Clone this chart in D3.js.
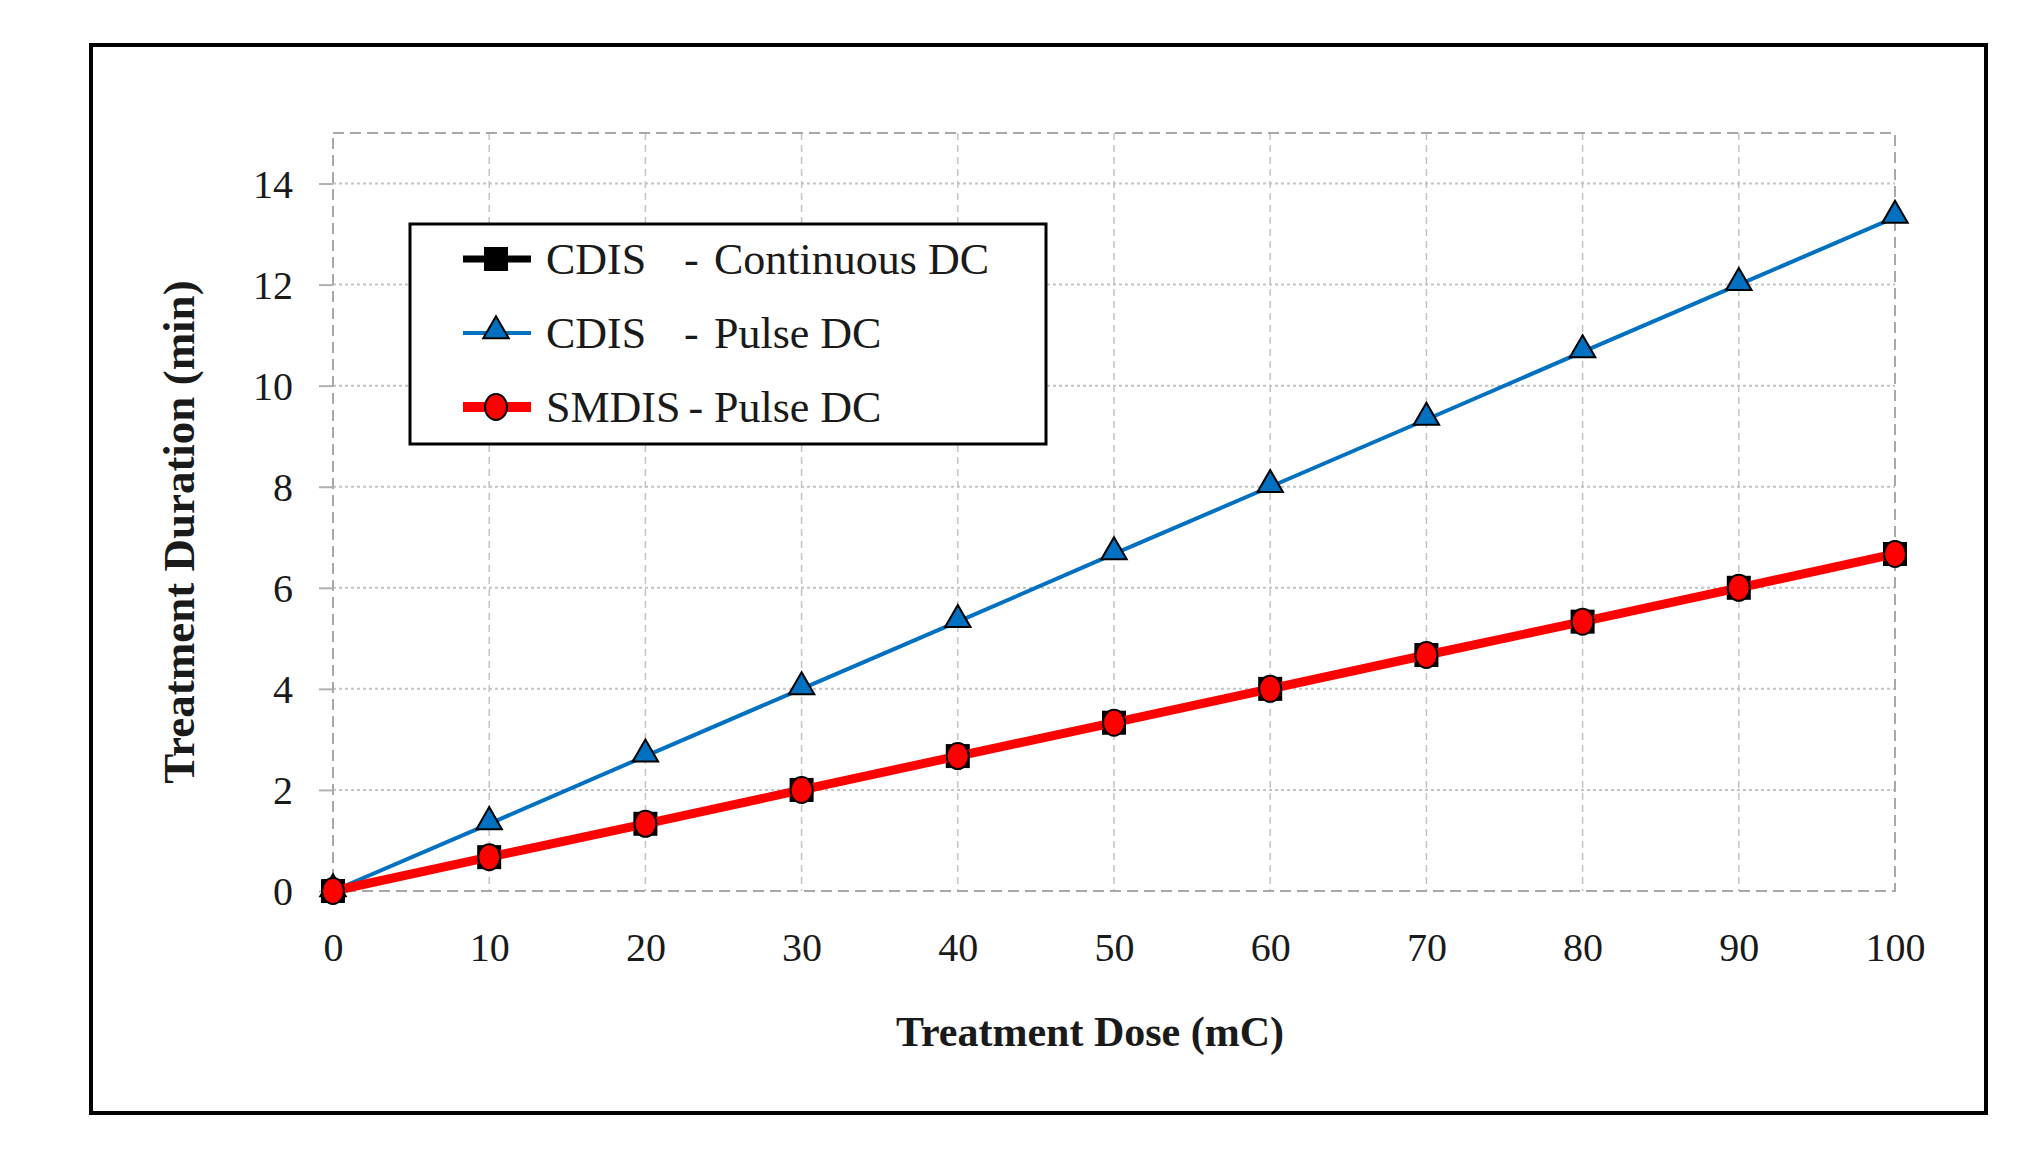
<!DOCTYPE html>
<html>
<head>
<meta charset="utf-8">
<script src="https://cdn.jsdelivr.net/npm/d3@7"></script>
<style>
  body { margin: 0; background: #fff; }
  text { font-family: "Liberation Serif", "DejaVu Serif", serif; fill: #1a1a1a; }
</style>
</head>
<body>
<script>
const doses = [0, 10, 20, 30, 40, 50, 60, 70, 80, 90, 100];
const cdisContinuous = [0, 0.67, 1.33, 2, 2.67, 3.33, 4, 4.67, 5.33, 6, 6.67];
const cdisPulse = [0, 1.33, 2.67, 4, 5.33, 6.67, 8, 9.33, 10.67, 12, 13.33];
const smdisPulse = [0, 0.67, 1.33, 2, 2.67, 3.33, 4, 4.67, 5.33, 6, 6.67];
const yTicks = [0, 2, 4, 6, 8, 10, 12, 14];
const legendNames = ["CDIS", "CDIS", "SMDIS"];
const legendModes = ["Continuous DC", "Pulse DC", "Pulse DC"];

const W = 2030, H = 1164;
const svg = d3.select("body").append("svg")
  .attr("width", W).attr("height", H);

// outer frame
svg.append("rect")
  .attr("x", 91).attr("y", 45).attr("width", 1895).attr("height", 1068)
  .attr("fill", "none").attr("stroke", "#000").attr("stroke-width", 4);

const x = d3.scaleLinear().domain([0, 100]).range([333, 1895]);
const y = d3.scaleLinear().domain([0, 15]).range([891, 133]);

// grid
svg.append("g").selectAll("line").data(yTicks.filter(d => d > 0))
  .enter().append("line")
  .attr("x1", x(0)).attr("x2", x(100))
  .attr("y1", d => y(d)).attr("y2", d => y(d))
  .attr("stroke", "#c4c4c4").attr("stroke-width", 2)
  .attr("stroke-dasharray", "3,3");

svg.append("g").selectAll("line").data(doses.filter(d => d > 0 && d < 100))
  .enter().append("line")
  .attr("x1", d => x(d)).attr("x2", d => x(d))
  .attr("y1", y(15)).attr("y2", y(0))
  .attr("stroke", "#c4c4c4").attr("stroke-width", 1.5)
  .attr("stroke-dasharray", "7,5");

// plot border
svg.append("rect")
  .attr("x", x(0)).attr("y", y(15))
  .attr("width", x(100) - x(0)).attr("height", y(0) - y(15))
  .attr("fill", "none").attr("stroke", "#a8a8a8").attr("stroke-width", 2)
  .attr("stroke-dasharray", "11,6");

// axes
const yAxis = svg.append("g")
  .attr("transform", `translate(${x(0)},0)`)
  .call(d3.axisLeft(y).tickValues(yTicks).tickSize(14).tickPadding(26));
yAxis.select(".domain").remove();
yAxis.selectAll(".tick line").attr("stroke", "#b0b0b0").attr("stroke-width", 2);
yAxis.selectAll(".tick text").style("font-size", "40px").attr("dy", "0.34em");

const xAxis = svg.append("g")
  .attr("transform", `translate(0,${y(0)})`)
  .call(d3.axisBottom(x).tickValues(doses).tickSize(0).tickPadding(42));
xAxis.select(".domain").remove();
xAxis.selectAll(".tick text").style("font-size", "40px");

// axis titles
svg.append("text")
  .attr("x", 1090).attr("y", 1046)
  .attr("text-anchor", "middle")
  .style("font-size", "42px").style("font-weight", "bold")
  .text("Treatment Dose (mC)");

svg.append("text")
  .attr("transform", "translate(194,532) rotate(-90)")
  .attr("text-anchor", "middle")
  .style("font-size", "45px").style("font-weight", "bold")
  .text("Treatment Duration (min)");

// series
const line = d3.line().x((d, i) => x(doses[i])).y(d => y(d));

svg.append("path").datum(cdisContinuous)
  .attr("d", line).attr("fill", "none")
  .attr("stroke", "#000").attr("stroke-width", 6);
svg.append("g").selectAll("rect").data(cdisContinuous)
  .enter().append("rect")
  .attr("x", (d, i) => x(doses[i]) - 12).attr("y", d => y(d) - 12)
  .attr("width", 24).attr("height", 24).attr("fill", "#000");

svg.append("path").datum(cdisPulse)
  .attr("d", line).attr("fill", "none")
  .attr("stroke", "#0070C0").attr("stroke-width", 4);
const tri = d3.symbol().type(d3.symbolTriangle).size(280);
svg.append("g").selectAll("path").data(cdisPulse)
  .enter().append("path")
  .attr("d", tri)
  .attr("transform", (d, i) => `translate(${x(doses[i])},${y(d) - 2})`)
  .attr("fill", "#0070C0").attr("stroke", "#000").attr("stroke-width", 2);

svg.append("path").datum(smdisPulse)
  .attr("d", line).attr("fill", "none")
  .attr("stroke", "#FF0000").attr("stroke-width", 9);
svg.append("g").selectAll("ellipse").data(smdisPulse)
  .enter().append("ellipse")
  .attr("cx", (d, i) => x(doses[i])).attr("cy", d => y(d))
  .attr("rx", 11).attr("ry", 13)
  .attr("fill", "#FF0000").attr("stroke", "#000").attr("stroke-width", 2);

// legend
const lg = svg.append("g");
lg.append("rect")
  .attr("x", 410).attr("y", 224).attr("width", 636).attr("height", 220)
  .attr("fill", "#fff").attr("stroke", "#000").attr("stroke-width", 3);

const rowY = [259, 333, 407];
const sym = [
  g => g.append("rect").attr("x", -12).attr("y", -12).attr("width", 24).attr("height", 24).attr("fill", "#000"),
  g => g.append("path").attr("d", tri).attr("transform", "translate(0,-2)")
        .attr("fill", "#0070C0").attr("stroke", "#000").attr("stroke-width", 2),
  g => g.append("ellipse").attr("rx", 11).attr("ry", 13)
        .attr("fill", "#FF0000").attr("stroke", "#000").attr("stroke-width", 2)
];
const lineStyle = [["#000", 7], ["#0070C0", 4], ["#FF0000", 10]];

legendNames.forEach((name, i) => {
  const g = lg.append("g").attr("transform", `translate(0,${rowY[i]})`);
  g.append("line").attr("x1", 463).attr("x2", 531)
    .attr("stroke", lineStyle[i][0]).attr("stroke-width", lineStyle[i][1]);
  sym[i](g.append("g").attr("transform", "translate(496,0)"));
  const t = g.append("text").attr("x", 546).attr("dy", "0.35em")
    .style("font-size", "44px").text(name);
  const end = 546 + t.node().getComputedTextLength();
  g.append("text").attr("x", Math.max(end + 8, 684)).attr("dy", "0.35em")
    .style("font-size", "44px").text("-");
  g.append("text").attr("x", 714).attr("dy", "0.35em")
    .style("font-size", "44px").text(legendModes[i]);
});
</script>
</body>
</html>
